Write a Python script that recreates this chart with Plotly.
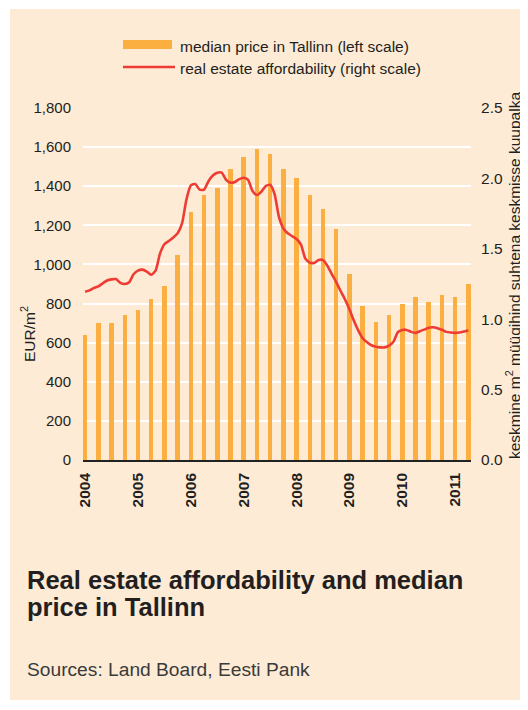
import plotly.graph_objects as go

# ---------------- data ----------------
quarters = [f"{y}Q{q}" for y in range(2004, 2012) for q in range(1, 5)][:30]
median_price = [640, 700, 700, 740, 765, 825, 890, 1050, 1270, 1355,
                1390, 1490, 1550, 1590, 1565, 1490, 1440, 1355, 1285, 1180,
                950, 785, 705, 740, 800, 835, 810, 845, 835, 900]

# monthly affordability from Jan 2004 to Apr 2011
affordability = [1.195, 1.205, 1.222, 1.233, 1.255, 1.275, 1.283, 1.285, 1.258, 1.250,
                 1.262, 1.319, 1.345, 1.352, 1.338, 1.316, 1.345, 1.466, 1.532, 1.555,
                 1.580, 1.610, 1.680, 1.850, 1.950, 1.960, 1.920, 1.920, 1.980, 2.020,
                 2.040, 2.041, 1.990, 1.970, 1.975, 1.995, 2.005, 1.990, 1.910, 1.882,
                 1.905, 1.945, 1.955, 1.890, 1.727, 1.645, 1.610, 1.590, 1.570, 1.530,
                 1.430, 1.402, 1.400, 1.420, 1.420, 1.380, 1.320, 1.264, 1.200, 1.140,
                 1.070, 0.990, 0.920, 0.865, 0.836, 0.815, 0.805, 0.800, 0.800, 0.813,
                 0.840, 0.908, 0.924, 0.924, 0.910, 0.903, 0.915, 0.926, 0.940, 0.943,
                 0.936, 0.925, 0.910, 0.905, 0.903, 0.906, 0.912, 0.922]

year_labels = ["2004", "2005", "2006", "2007", "2008", "2009", "2010", "2011"]
left_ticks = [0, 200, 400, 600, 800, 1000, 1200, 1400, 1600, 1800]
right_ticks = [0.0, 0.5, 1.0, 1.5, 2.0, 2.5]

# ---------------- layout geometry ----------------
# the page body adds an 8px margin; the figure is sized so it fills the window
OFF = 8
W, H = 528 - OFF, 710 - OFF
ML, MR, MT, MB = 83 - OFF, 57, 108 - OFF, 250
PW, PH = W - ML - MR, H - MT - MB


def px_x(p):
    return (p - OFF - ML) / PW


def px_y(p):
    return 1 - (p - OFF - MT) / PH


BG = "#fdebd6"
BAR = "#fbaf41"
RED = "#ee3b34"
TXT = "#231f20"
FONT = "Liberation Sans, Arial, sans-serif"

bar_x = list(range(len(median_price)))
line_x = [m / 3 for m in range(len(affordability))]

fig = go.Figure()
fig.add_trace(go.Bar(x=bar_x, y=median_price, marker_color=BAR, width=0.34,
                     marker_line_width=0, name="median price in Tallinn (left scale)"))
fig.add_trace(go.Scatter(x=line_x, y=affordability, yaxis="y2", mode="lines",
                         line=dict(color=RED, width=2.6, shape="spline", smoothing=0.6),
                         name="real estate affordability (right scale)"))

shapes = [
    dict(type="rect", xref="paper", yref="paper", layer="below",
         x0=px_x(10), x1=px_x(530), y0=px_y(700), y1=px_y(9),
         fillcolor=BG, line_width=0),
    # legend swatches
    dict(type="rect", xref="paper", yref="paper",
         x0=px_x(123), x1=px_x(172), y0=px_y(49), y1=px_y(40),
         fillcolor=BAR, line_width=0),
    dict(type="line", xref="paper", yref="paper",
         x0=px_x(123), x1=px_x(175), y0=px_y(67), y1=px_y(67),
         line=dict(color=RED, width=2.6)),
]

annotations = [
    dict(text="median price in Tallinn (left scale)", x=px_x(178), y=px_y(46.5),
         xanchor="left", yanchor="middle", font=dict(size=15.5, color=TXT)),
    dict(text="real estate affordability (right scale)", x=px_x(178), y=px_y(68.5),
         xanchor="left", yanchor="middle", font=dict(size=15.5, color=TXT)),
    dict(text="EUR/m<sup>2</sup>", x=px_x(28), y=px_y(334), textangle=-90,
         xanchor="center", yanchor="middle", font=dict(size=15.5, color=TXT)),
    dict(text="keskmine m<sup>2</sup> müügihind suhtena keskmisse kuupalka",
         x=px_x(513), y=px_y(276), textangle=-90,
         xanchor="center", yanchor="middle", font=dict(size=15.5, color=TXT)),
    dict(text="<b>Real estate affordability and median</b>", x=px_x(25), y=px_y(580),
         xanchor="left", yanchor="middle", font=dict(size=25.5, color=TXT)),
    dict(text="<b>price in Tallinn</b>", x=px_x(25), y=px_y(607),
         xanchor="left", yanchor="middle", font=dict(size=25.5, color=TXT)),
    dict(text="Sources: Land Board, Eesti Pank", x=px_x(25), y=px_y(669),
         xanchor="left", yanchor="middle", font=dict(size=19.2, color="#3a3a3a")),
]
for a in annotations:
    a.update(xref="paper", yref="paper", showarrow=False)

fig.update_layout(
    width=W, height=H,
    margin=dict(l=ML, r=MR, t=MT, b=MB, pad=0),
    paper_bgcolor="white", plot_bgcolor="rgba(0,0,0,0)",
    font=dict(family=FONT, color=TXT),
    showlegend=False,
    bargap=0,
    shapes=shapes, annotations=annotations,
    xaxis=dict(range=[-0.16, 29.2], tickmode="array",
               tickvals=[i * 4 for i in range(len(year_labels))],
               ticktext=[f"<b>{t}</b>" for t in year_labels],
               tickangle=-90, tickfont=dict(size=15.5, color=TXT),
               ticks="outside", ticklen=5, tickcolor="rgba(0,0,0,0)",
               showgrid=False, zeroline=False,
               showline=True, linecolor="#222", linewidth=1.5),
    yaxis=dict(range=[0, 1800], tickmode="array", tickvals=left_ticks,
               ticktext=[f"{v:,}" for v in left_ticks],
               tickfont=dict(size=15, color=TXT),
               ticks="outside", ticklen=8, tickcolor="rgba(0,0,0,0)",
               showgrid=True, gridcolor="white", gridwidth=1.6, zeroline=False,
               showline=False),
    yaxis2=dict(range=[0, 2.5], overlaying="y", side="right", tickmode="array",
                tickvals=right_ticks, ticktext=[f"{v:.1f}" for v in right_ticks],
                tickfont=dict(size=15.5, color=TXT),
                ticks="outside", ticklen=6, tickcolor="rgba(0,0,0,0)",
                showgrid=False, zeroline=False, showline=False),
)

fig.write_html("out.html")
